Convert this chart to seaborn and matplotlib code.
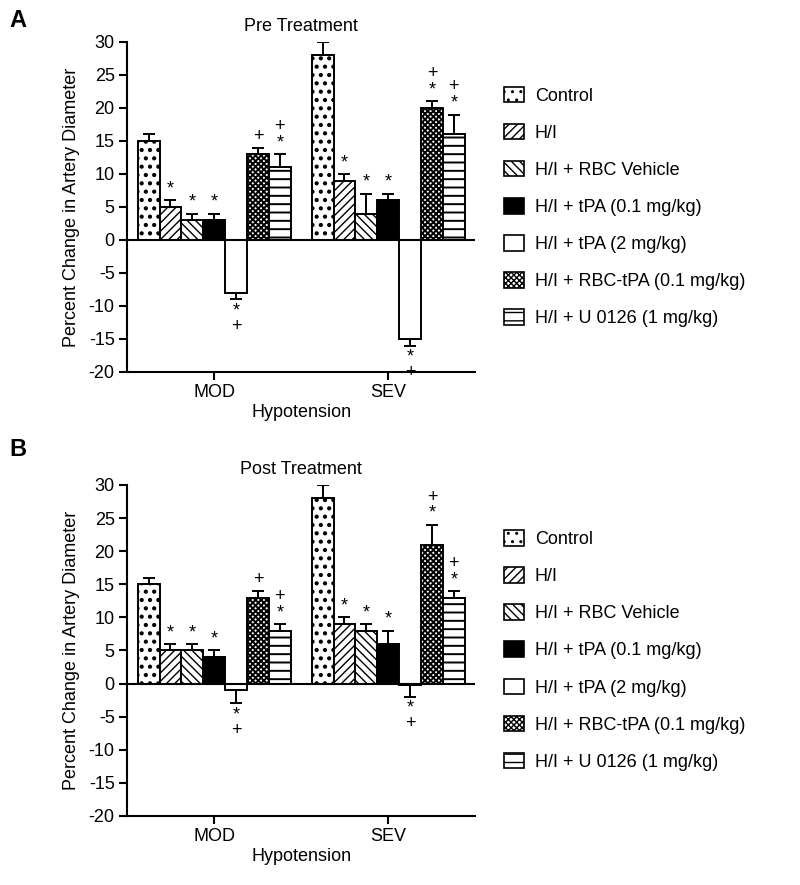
import matplotlib
matplotlib.use("Agg")
import matplotlib.pyplot as plt
from matplotlib.patches import Patch
import pandas as pd
import seaborn as sns

treatments = ["Control", "H/I", "H/I + RBC Vehicle", "H/I + tPA (0.1 mg/kg)",
              "H/I + tPA (2 mg/kg)", "H/I + RBC-tPA (0.1 mg/kg)", "H/I + U 0126 (1 mg/kg)"]
groups = ["MOD", "SEV"]

# Pre treatment (panel A)
pre_mod = [15, 5, 3, 3, -8, 13, 11]
pre_sev = [28, 9, 4, 6, -15, 20, 16]
pre_mod_err = [1, 1, 1, 1, 1, 1, 2]
pre_sev_err = [2, 1, 3, 1, 1, 1, 3]
pre_mod_marks = ["", "*", "*", "*", "*\n+", "+", "+\n*"]
pre_sev_marks = ["", "*", "*", "*", "*\n+", "+\n*", "+\n*"]

# Post treatment (panel B)
post_mod = [15, 5, 5, 4, -1, 13, 8]
post_sev = [28, 9, 8, 6, -0.2, 21, 13]
post_mod_err = [1, 1, 1, 1, 2, 1, 1]
post_sev_err = [2, 1, 1, 2, 1.8, 3, 1]
post_mod_marks = ["", "*", "*", "*", "*\n+", "+", "+\n*"]
post_sev_marks = ["", "*", "*", "*", "*\n+", "+\n*", "+\n*"]

fills = ["white", "white", "white", "black", "white", "white", "white"]
hatches = ["..", "////", "\\\\\\\\", "", "", "xxxxxx", "--"]
hatch_widths = [1.8, 1.0, 1.0, 1.0, 1.0, 1.4, 1.4]

sns.set_style("ticks")
plt.rcParams["font.family"] = ["Liberation Sans", "DejaVu Sans"]
plt.rcParams["hatch.linewidth"] = 1.0
plt.rcParams["axes.linewidth"] = 1.5
plt.rcParams["axes.unicode_minus"] = False
for key in ["text.color", "axes.labelcolor", "xtick.color", "ytick.color", "axes.edgecolor"]:
    plt.rcParams[key] = "black"


def style_hatch(patch, i):
    patch.set_hatch(hatches[i])
    if hasattr(patch, "set_hatch_linewidth"):
        patch.set_hatch_linewidth(hatch_widths[i])


def draw_panel(ax, mod, sev, mod_err, sev_err, mod_marks, sev_marks, title):
    df = pd.DataFrame({
        "Hypotension": [g for g in groups for _ in treatments],
        "Treatment": treatments * 2,
        "Change": mod + sev,
    })
    sns.barplot(data=df, x="Hypotension", y="Change", hue="Treatment",
                order=groups, hue_order=treatments, palette=fills, saturation=1,
                width=0.88, gap=0, edgecolor="black", linewidth=1.4,
                errorbar=None, legend=False, ax=ax, zorder=3)

    vals = [mod, sev]
    errs = [mod_err, sev_err]
    marks = [mod_marks, sev_marks]
    bar_groups = list(ax.containers)
    for i, cont in enumerate(bar_groups):
        for j, bar in enumerate(cont):
            style_hatch(bar, i)
            x = bar.get_x() + bar.get_width() / 2
            v = vals[j][i]
            e = errs[j][i]
            if v < 0:
                ax.errorbar(x, v, yerr=[[e], [0]], fmt="none", ecolor="black",
                            elinewidth=1.4, capsize=4, capthick=1.4, zorder=4)
                tip = v - e
                ax.annotate(marks[j][i], xy=(x, tip), xytext=(0, -2),
                            textcoords="offset points", ha="center", va="top",
                            fontsize=13, linespacing=0.9, zorder=6)
            else:
                ax.errorbar(x, v, yerr=[[0], [e]], fmt="none", ecolor="black",
                            elinewidth=1.4, capsize=4, capthick=1.4, zorder=4)
                tip = v + e
                if marks[j][i]:
                    ax.annotate(marks[j][i], xy=(x, tip), xytext=(0, 2),
                                textcoords="offset points", ha="center", va="bottom",
                                fontsize=13, linespacing=0.95)

    ax.axhline(0, color="black", lw=1.5, zorder=5)
    ax.set_xlim(-0.5, 1.5)
    ax.set_ylim(-20, 30)
    ax.set_yticks(range(-20, 31, 5))
    ax.set_title(title, fontsize=13, pad=8)
    ax.set_xlabel("Hypotension", fontsize=13, labelpad=2)
    ax.set_ylabel("Percent Change in Artery Diameter", fontsize=13, labelpad=6)
    ax.tick_params(labelsize=13, length=6, width=1.5, pad=3)
    sns.despine(ax=ax)

    handles = []
    for i, name in enumerate(treatments):
        h = Patch(facecolor=fills[i], edgecolor="black", linewidth=1.2, label=name)
        style_hatch(h, i)
        handles.append(h)
    ax.legend(handles=handles, loc="center left", bbox_to_anchor=(1.083, 0.5),
              frameon=False, fontsize=13, borderpad=0, borderaxespad=0,
              handlelength=1.1, handleheight=0.95, handletextpad=0.6,
              labelspacing=1.06)


fig = plt.figure(figsize=(8, 8.85), dpi=100)
ax_a = fig.add_axes([0.159, 0.5797, 0.435, 0.3729])
ax_b = fig.add_axes([0.159, 0.078, 0.435, 0.374])

draw_panel(ax_a, pre_mod, pre_sev, pre_mod_err, pre_sev_err,
           pre_mod_marks, pre_sev_marks, "Pre Treatment")
draw_panel(ax_b, post_mod, post_sev, post_mod_err, post_sev_err,
           post_mod_marks, post_sev_marks, "Post Treatment")

fig.text(0.012, 0.99, "A", fontsize=17, fontweight="bold", va="top")
fig.text(0.012, 0.505, "B", fontsize=17, fontweight="bold", va="top")

fig.savefig("out.png", dpi=100)
